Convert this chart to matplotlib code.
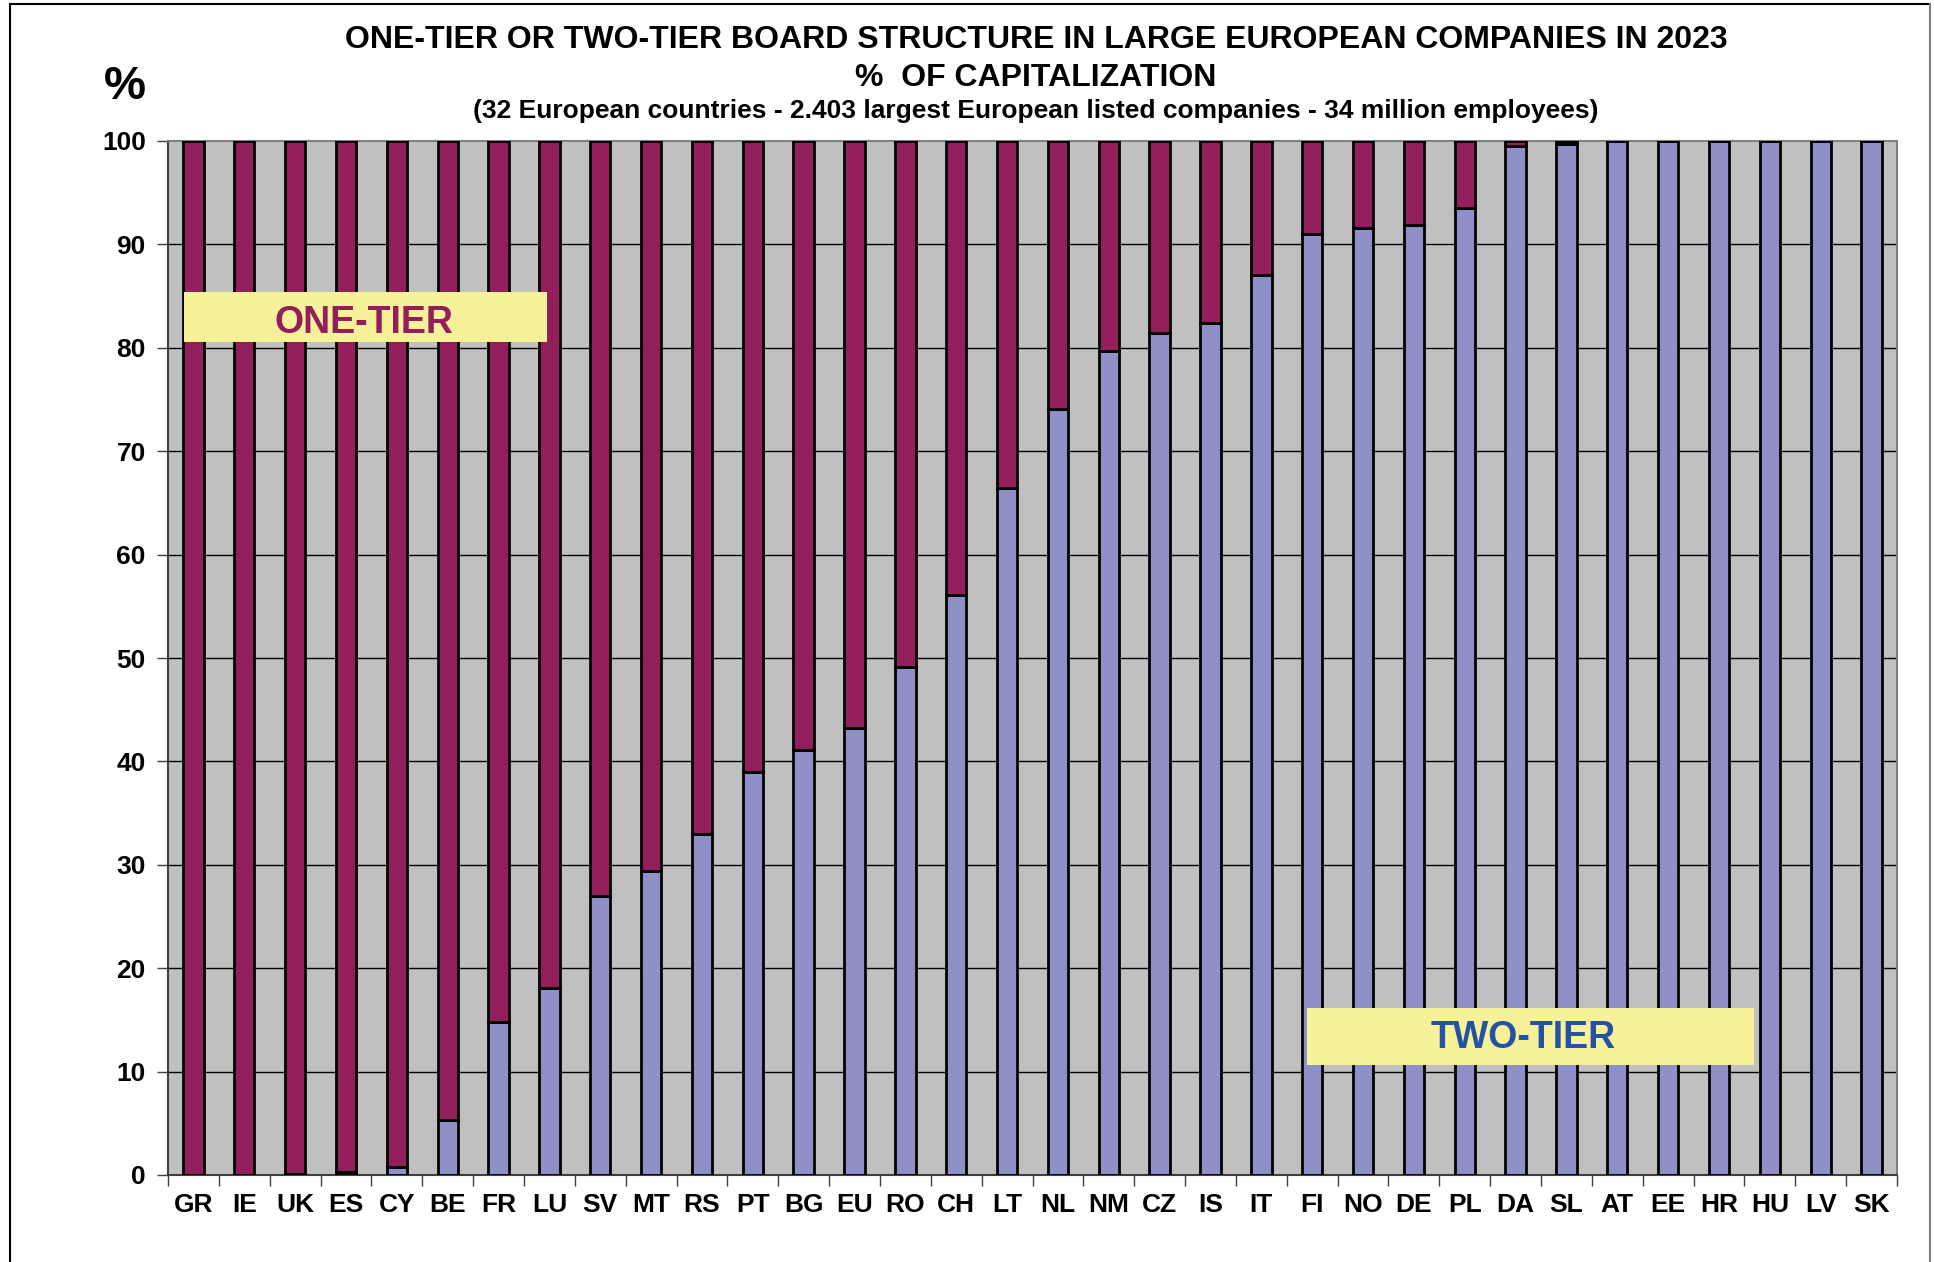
import matplotlib
matplotlib.use("Agg")
import matplotlib.pyplot as plt
from matplotlib.lines import Line2D
from matplotlib.patches import Rectangle
import numpy as np

plt.rcParams['font.family'] = ['Liberation Sans', 'DejaVu Sans']
plt.rcParams['font.weight'] = 'bold'

# country codes, sorted by share of two-tier boards
countries = ['GR', 'IE', 'UK', 'ES', 'CY', 'BE', 'FR', 'LU', 'SV', 'MT', 'RS', 'PT',
             'BG', 'EU', 'RO', 'CH', 'LT', 'NL', 'NM', 'CZ', 'IS', 'IT', 'FI', 'NO',
             'DE', 'PL', 'DA', 'SL', 'AT', 'EE', 'HR', 'HU', 'LV', 'SK']

# % of capitalization with a two-tier board
two_tier = [0.0, 0.0, 0.1, 0.3, 0.8, 5.3, 14.8, 18.1, 27.0, 29.4, 33.0, 39.0,
            41.1, 43.2, 49.1, 56.1, 66.4, 74.1, 79.7, 81.4, 82.4, 87.0, 91.0, 91.6,
            91.9, 93.5, 99.5, 99.7, 100.0, 100.0, 100.0, 100.0, 100.0, 100.0]

# % of capitalization with a one-tier board
one_tier = [100.0, 100.0, 99.9, 99.7, 99.2, 94.7, 85.2, 81.9, 73.0, 70.6, 67.0, 61.0,
            58.9, 56.8, 50.9, 43.9, 33.6, 25.9, 20.3, 18.6, 17.6, 13.0, 9.0, 8.4,
            8.1, 6.5, 0.5, 0.3, 0.0, 0.0, 0.0, 0.0, 0.0, 0.0]

yticks = [0, 10, 20, 30, 40, 50, 60, 70, 80, 90, 100]

W, H = 1934, 1262
fig = plt.figure(figsize=(W / 100, H / 100), dpi=100)
fig.patch.set_facecolor('white')

# plot area in pixels: left 168, right 1897, top 141, bottom 1175
ax = fig.add_axes([168 / W, (H - 1175) / H, 1729 / W, 1034 / H])
ax.set_facecolor('#C0C0C0')

x = np.arange(len(countries))
bw = 0.4
ax.bar(x, two_tier, width=bw, color='#9090C8', edgecolor='black', linewidth=2.0, zorder=3)
ax.bar(x, one_tier, width=bw, bottom=two_tier, color='#931E5C', edgecolor='black',
       linewidth=2.0, zorder=3)

ax.set_xlim(-0.5, len(countries) - 0.5)
ax.set_ylim(0, 100)
ax.set_yticks(yticks)
ax.set_yticklabels([str(v) for v in yticks], fontsize=19, fontweight='bold')
for v in yticks[1:-1]:
    ax.axhline(v, color='black', linewidth=1.0, zorder=1)

ax.set_xticks(x)
ax.set_xticklabels(countries, fontsize=19, fontweight='bold')
ax.set_xticks(np.arange(-0.5, len(countries)), minor=True)
ax.tick_params(axis='x', which='major', length=0, pad=13)
ax.tick_params(axis='x', which='minor', length=8, width=1, color='#404040', direction='out')
ax.tick_params(axis='y', length=8, width=1, color='#404040', direction='out', pad=8)

ax.spines['left'].set_color('#404040')
ax.spines['bottom'].set_color('#404040')
ax.spines['top'].set_color('#808080')
ax.spines['right'].set_color('#808080')
for s in ax.spines.values():
    s.set_linewidth(1.5)

# label boxes
ax.add_patch(Rectangle((16 / 1729, (1175 - 342) / 1034), 363 / 1729, 50 / 1034,
                       transform=ax.transAxes, facecolor='#F7F29A', edgecolor='none', zorder=4))
ax.text((364 - 168) / 1729, (1175 - 323) / 1034, 'ONE-TIER', transform=ax.transAxes,
        ha='center', va='center', fontsize=27, fontweight='bold', color='#931E5C', zorder=5)
ax.add_patch(Rectangle(((1307 - 168) / 1729, (1175 - 1065) / 1034), 447 / 1729, 57 / 1034,
                       transform=ax.transAxes, facecolor='#F7F29A', edgecolor='none', zorder=4))
ax.text((1523 - 168) / 1729, (1175 - 1038) / 1034, 'TWO-TIER', transform=ax.transAxes,
        ha='center', va='center', fontsize=27, fontweight='bold', color='#2452A4', zorder=5)

# titles
fig.text(1036 / W, 1 - 40 / H, 'ONE-TIER OR TWO-TIER BOARD STRUCTURE IN LARGE EUROPEAN COMPANIES IN 2023',
         ha='center', va='center', fontsize=23, fontweight='bold')
fig.text(1036 / W, 1 - 78 / H, '%  OF CAPITALIZATION',
         ha='center', va='center', fontsize=23, fontweight='bold')
fig.text(1036 / W, 1 - 111 / H,
         '(32 European countries - 2.403 largest European listed companies - 34 million employees)',
         ha='center', va='center', fontsize=19, fontweight='bold')
fig.text(125 / W, 1 - 87 / H, '%', ha='center', va='center', fontsize=34, fontweight='bold')

# outer frame
fig.add_artist(Line2D([10 / W, 10 / W], [0, 1 - 4 / H], color='black', linewidth=1.5))
fig.add_artist(Line2D([10 / W, 1930 / W], [1 - 4 / H, 1 - 4 / H], color='black', linewidth=1.5))
fig.add_artist(Line2D([1930 / W, 1930 / W], [0, 1 - 4 / H], color='#808080', linewidth=1.5))

fig.savefig('out.png', dpi=100)
